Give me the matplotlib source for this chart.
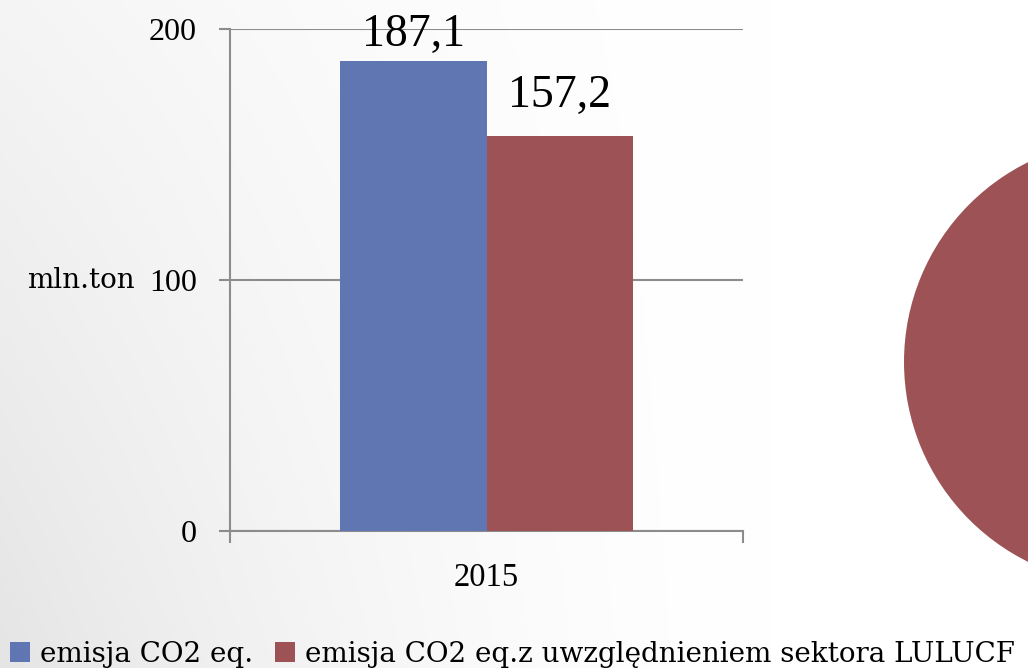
import numpy as np
import matplotlib
matplotlib.use("Agg")
import matplotlib.pyplot as plt
from matplotlib.patches import Patch

# ---- data ----
categories = ["2015"]
series_names = ["emisja CO2 eq.", "emisja CO2 eq.z uwzględnieniem sektora LULUCF"]
series_values = [187.1, 157.2]
value_labels = ["187,1", "157,2"]
y_ticks = [0, 100, 200]
y_label = "mln.ton"
pie_values = [100]

# ---- style ----
colors = ["#6076B2", "#9D5355"]
grid_color = "#8C8C8C"
num_font = ["Liberation Serif", "DejaVu Serif"]
text_font = ["DejaVu Serif"]
plt.rcParams["font.family"] = num_font

W, H, DPI = 1028, 668, 100
fig = plt.figure(figsize=(W / DPI, H / DPI), dpi=DPI)

# background gradient
bg = fig.add_axes([0, 0, 1, 1], zorder=-10)
xx, yy = np.meshgrid(np.linspace(0, 1, 400), np.linspace(0, 1, 260))
shade = 255 - 26 * np.clip(1 - xx / 0.75, 0, 1) ** 1.6 * (0.4 + 0.6 * yy)
img = np.dstack([shade, shade, shade]).astype(np.uint8)
bg.imshow(img, aspect="auto", extent=[0, 1, 1, 0])
bg.set_axis_off()

# main bar axes
ax = fig.add_axes([230 / W, 1 - 531 / H, 513 / W, 502 / H])
ax.patch.set_alpha(0)
n = len(series_values)
width = 0.2865
x0 = np.arange(len(categories))
offsets = (np.arange(n) - (n - 1) / 2) * width
label_offsets = [4, 14]
for i, (v, c, lab) in enumerate(zip(series_values, colors, value_labels)):
    ax.bar(x0 + offsets[i], [v], width=width, color=c, zorder=3)
    ax.annotate(lab, (x0[0] + offsets[i], v), xytext=(0, label_offsets[i]),
                textcoords="offset points", ha="center", va="bottom",
                fontsize=33, color="black", zorder=4, annotation_clip=False)

ax.set_xlim(-0.5, 0.5)
ax.set_ylim(0, 200)
ax.set_yticks(y_ticks)
ax.set_yticklabels([str(t) for t in y_ticks])
ax.yaxis.grid(True, color=grid_color, linewidth=1.5, zorder=0)
ax.set_axisbelow(True)
for s in ["top", "right"]:
    ax.spines[s].set_visible(False)
for s in ["left", "bottom"]:
    ax.spines[s].set_color(grid_color)
    ax.spines[s].set_linewidth(1.5)

ax.set_xticks([-0.5, 0.5])
ax.set_xticklabels(["", ""])
ax.set_xticks(x0, minor=True)
ax.set_xticklabels(categories, minor=True)
ax.tick_params(axis="x", which="major", length=8.5, width=1.5, color=grid_color, direction="out")
ax.tick_params(axis="x", which="minor", length=0, pad=23, labelsize=23.5)
ax.tick_params(axis="y", length=8, width=1.5, color=grid_color, pad=16, labelsize=23)

ax.set_ylabel(y_label, rotation=0, ha="right", va="center", fontsize=20,
              family=text_font)
ax.yaxis.set_label_coords(-0.185, 0.5)

# legend
handles = [Patch(facecolor=c, edgecolor="none") for c in colors]
fig.legend(handles, series_names, loc="lower left", bbox_to_anchor=(0.0097, 0.0),
           ncol=2, frameon=False, prop={"family": text_font, "size": 20},
           handlelength=0.72, handleheight=0.72, handletextpad=0.36,
           columnspacing=0.79, borderaxespad=0, borderpad=0)

# partially visible pie on the right
r = 223
cx, cy = 1127, 362
pax = fig.add_axes([(cx - r) / W, 1 - (cy + r) / H, 2 * r / W, 2 * r / H])
pax.pie(pie_values, colors=[colors[1]], radius=1, startangle=90)
pax.set_xlim(-1, 1)
pax.set_ylim(-1, 1)
pax.set_axis_off()

fig.savefig("out.png", dpi=DPI)
